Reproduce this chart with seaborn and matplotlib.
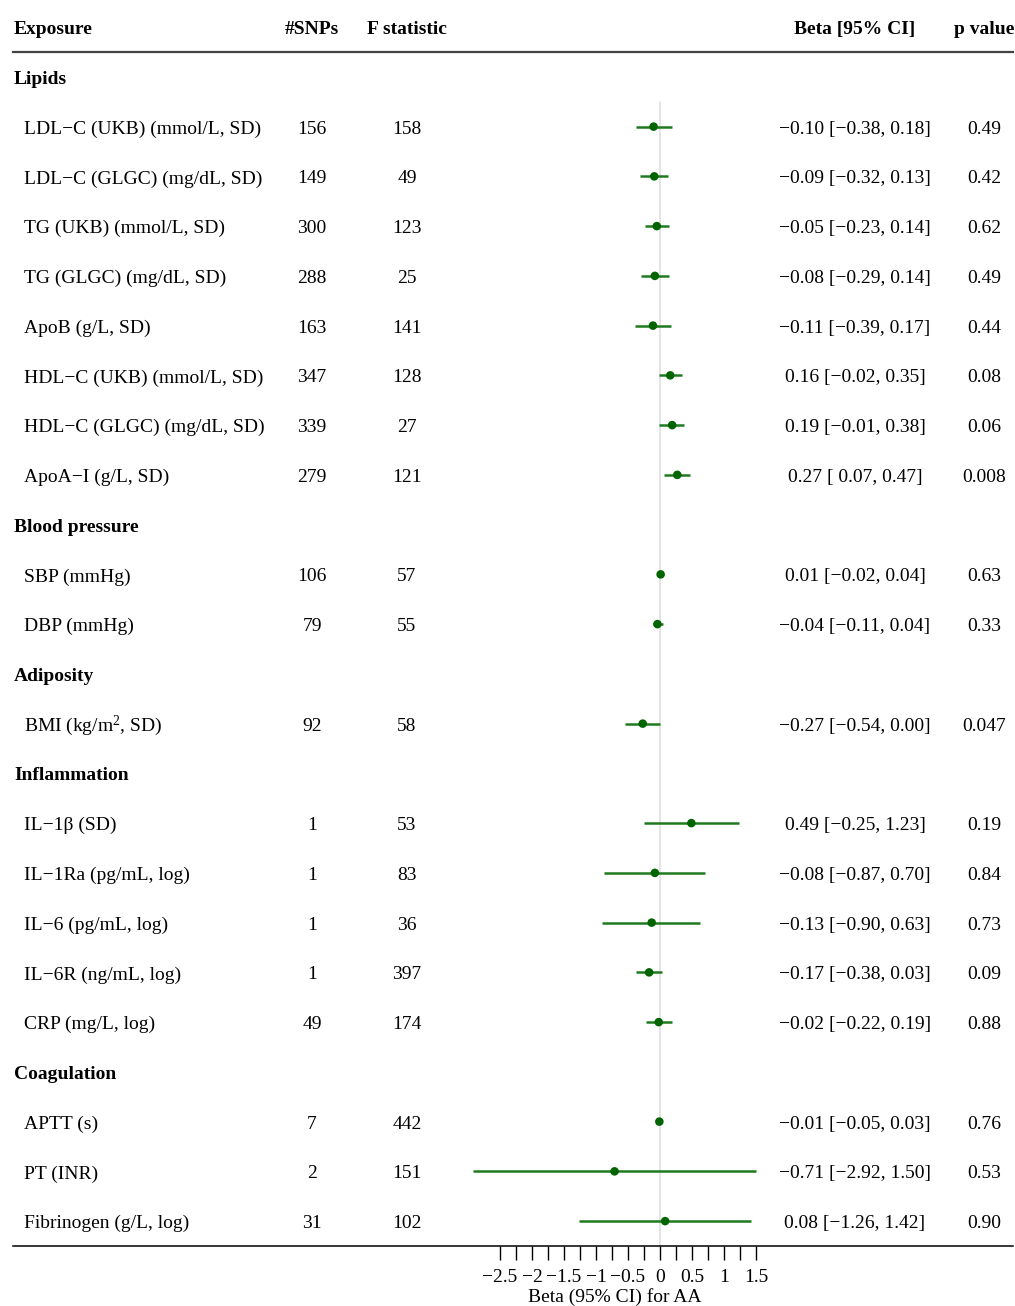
import numpy as np
import pandas as pd
import matplotlib
matplotlib.use("Agg")
import matplotlib.pyplot as plt
import seaborn as sns
from matplotlib.transforms import blended_transform_factory

# ---------------- data ----------------
groups = ["Lipids", "Blood pressure", "Adiposity", "Inflammation", "Coagulation"]
group_sizes = [8, 2, 1, 5, 3]
exposures = [
    "LDL\u2212C (UKB) (mmol/L, SD)", "LDL\u2212C (GLGC) (mg/dL, SD)",
    "TG (UKB) (mmol/L, SD)", "TG (GLGC) (mg/dL, SD)", "ApoB (g/L, SD)",
    "HDL\u2212C (UKB) (mmol/L, SD)", "HDL\u2212C (GLGC) (mg/dL, SD)",
    "ApoA\u2212I (g/L, SD)",
    "SBP (mmHg)", "DBP (mmHg)",
    "BMI (kg/m$^2$, SD)",
    "IL\u22121\u03b2 (SD)", "IL\u22121Ra (pg/mL, log)", "IL\u22126 (pg/mL, log)",
    "IL\u22126R (ng/mL, log)", "CRP (mg/L, log)",
    "APTT (s)", "PT (INR)", "Fibrinogen (g/L, log)",
]
n_snps = [156, 149, 300, 288, 163, 347, 339, 279, 106, 79, 92, 1, 1, 1, 1, 49, 7, 2, 31]
f_stat = [158, 49, 123, 25, 141, 128, 27, 121, 57, 55, 58, 53, 83, 36, 397, 174, 442, 151, 102]
beta = [-0.10, -0.09, -0.05, -0.08, -0.11, 0.16, 0.19, 0.27, 0.01, -0.04, -0.27,
        0.49, -0.08, -0.13, -0.17, -0.02, -0.01, -0.71, 0.08]
ci_low = [-0.38, -0.32, -0.23, -0.29, -0.39, -0.02, -0.01, 0.07, -0.02, -0.11, -0.54,
          -0.25, -0.87, -0.90, -0.38, -0.22, -0.05, -2.92, -1.26]
ci_high = [0.18, 0.13, 0.14, 0.14, 0.17, 0.35, 0.38, 0.47, 0.04, 0.04, 0.00,
           1.23, 0.70, 0.63, 0.03, 0.19, 0.03, 1.50, 1.42]
p_values = ["0.49", "0.42", "0.62", "0.49", "0.44", "0.08", "0.06", "0.008", "0.63", "0.33",
            "0.047", "0.19", "0.84", "0.73", "0.09", "0.88", "0.76", "0.53", "0.90"]
headers = ["Exposure", "#SNPs", "F statistic", "Beta [95% CI]", "p value"]
xticks_major = [-2.5, -2, -1.5, -1, -0.5, 0, 0.5, 1, 1.5]
xlabel = "Beta (95% CI) for AA"

# ---------------- style ----------------
sns.set_theme(style="white")
plt.rcParams["font.family"] = ["Liberation Serif", "DejaVu Serif"]
plt.rcParams["mathtext.fontset"] = "custom"
plt.rcParams["mathtext.rm"] = "Liberation Serif"
plt.rcParams["mathtext.it"] = "Liberation Serif:italic"
plt.rcParams["mathtext.bf"] = "Liberation Serif:bold"
plt.rcParams["text.color"] = "black"
plt.rcParams["xtick.color"] = "black"
plt.rcParams["xtick.labelcolor"] = "black"

W, H = 1015, 1306
FS = 14
fig = plt.figure(figsize=(W / 100, H / 100), dpi=100)
ax_left, ax_right, ax_top, ax_bottom = 13, 1013, 52, 1246
ax = fig.add_axes([ax_left / W, 1 - ax_bottom / H, (ax_right - ax_left) / W,
                   (ax_bottom - ax_top) / H])

x0_px, ppu = 660, 64.0
ax.set_xlim((ax_left - x0_px) / ppu, (ax_right - x0_px) / ppu)

# row layout
rows_group, rows_item = [], []
r = 0
for g, n in zip(groups, group_sizes):
    rows_group.append(r)
    r += 1
    for _ in range(n):
        rows_item.append(r)
        r += 1
n_rows = r
ax.set_ylim(n_rows - 0.5, -0.5)

df = pd.DataFrame({"exposure": exposures, "snps": n_snps, "F": f_stat, "beta": beta,
                   "lo": ci_low, "hi": ci_high, "p": p_values, "row": rows_item})

# zero line
ax.plot([0, 0], [0.5, n_rows - 0.5], color="#dcdcdc", lw=1.1, zorder=0)

# CI lines and points
ax.hlines(df["row"], df["lo"], df["hi"], color="#1f7a1f", lw=1.8, zorder=2)
sns.scatterplot(data=df, x="beta", y="row", color="#006400", s=38, edgecolor="none",
                zorder=3, ax=ax, legend=False)

# spines / ticks
for s in ["left", "right"]:
    ax.spines[s].set_visible(False)
ax.spines["top"].set_visible(True)
ax.spines["top"].set_color("#444444")
ax.spines["top"].set_linewidth(1.6)
ax.spines["bottom"].set_color("black")
ax.spines["bottom"].set_linewidth(1.1)
ax.set_yticks([])
ticks_all = np.arange(xticks_major[0], xticks_major[-1] + 0.01, 0.25)
labels = []
for t in ticks_all:
    if any(abs(t - m) < 1e-9 for m in xticks_major):
        labels.append(f"{t:g}".replace("-", "\u2212"))
    else:
        labels.append("")
ax.set_xticks(ticks_all)
ax.set_xticklabels(labels)
ax.tick_params(axis="x", bottom=True, direction="out", length=10, width=1.0,
               color="black", labelcolor="black", labelsize=FS, pad=6.5)
ax.set_xlabel("")
ax.set_ylabel("")
ax.grid(False)

# x label centered on data range
xc = (min(ci_low) + max(ci_high)) / 2
ax.text(xc, -(1297 - ax_bottom) / (ax_bottom - ax_top), xlabel,
        transform=blended_transform_factory(ax.transData, ax.transAxes),
        ha="center", va="center", fontsize=FS)

tr = blended_transform_factory(fig.transFigure, ax.transData)
col_expo_group, col_expo, col_snp, col_f, col_ci, col_p = 14, 24, 312, 407, 855, 984
dy = 0.05  # small downward nudge of text relative to the row centre

# headers
hdr_row = -1
ax.text(col_expo_group / W, hdr_row + dy, headers[0], transform=tr, ha="left", va="center",
        fontsize=FS, fontweight="bold", clip_on=False)
for x, h in zip([col_snp, col_f, col_ci, col_p], headers[1:]):
    ax.text(x / W, hdr_row + dy, h, transform=tr, ha="center", va="center",
            fontsize=FS, fontweight="bold", clip_on=False)

for g, rg in zip(groups, rows_group):
    ax.text(col_expo_group / W, rg + dy, g, transform=tr, ha="left", va="center",
            fontsize=FS, fontweight="bold")


def fmt(v):
    return f"{v:.2f}".replace("-", "\u2212")


def fmt_pad(v):
    s = fmt(v)
    return s if v < 0 else " " + s


for _, d in df.iterrows():
    y = d["row"] + dy
    ax.text(col_expo / W, y, d["exposure"], transform=tr, ha="left", va="center", fontsize=FS)
    ax.text(col_snp / W, y, str(d["snps"]), transform=tr, ha="center", va="center", fontsize=FS)
    ax.text(col_f / W, y, str(d["F"]), transform=tr, ha="center", va="center", fontsize=FS)
    ci_txt = f"{fmt(d['beta'])} [{fmt_pad(d['lo'])}, {fmt(d['hi'])}]"
    ax.text(col_ci / W, y, ci_txt, transform=tr, ha="center", va="center", fontsize=FS)
    ax.text(col_p / W, y, d["p"], transform=tr, ha="center", va="center", fontsize=FS)

fig.savefig("out.png", dpi=100)
